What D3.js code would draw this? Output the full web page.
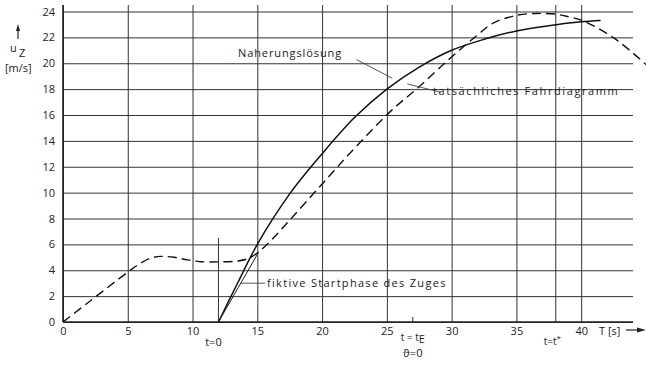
<!DOCTYPE html>
<html>
<head>
<meta charset="utf-8">
<script src="https://cdn.jsdelivr.net/npm/d3@7"></script>
<style>
  body { margin: 0; background: #fff; }
  svg text { font-family: "Open Sans", "DejaVu Sans", sans-serif; fill: #222; }
  .grid line { stroke: #333; stroke-width: 1; }
  .grid path { display: none; }
  .tick text { font-size: 11px; }
</style>
</head>
<body>
<script>

// data
var yTicks = [0, 2, 4, 6, 8, 10, 12, 14, 16, 18, 20, 22, 24];
var xTicks = [0, 5, 10, 15, 20, 25, 30, 35, 40];

// "tatsächliches Fahrdiagramm" (dashed)
var tatsT = [0, 2, 5, 6, 6.8, 7.6, 8.6, 9.6, 10.6, 12, 13.5, 14.4, 15.2, 16.2, 17.7, 19.9, 22.2, 25.3, 27.4, 29.9, 31.9, 33.2, 35, 36.5, 38, 39, 40.1, 42.6, 45];
var tatsU = [0, 1.55, 3.85, 4.55, 4.95, 5.07, 5.0, 4.8, 4.66, 4.65, 4.72, 4.95, 5.5, 6.45, 8.1, 10.55, 13.1, 16.3, 18.1, 20.4, 22.1, 23.1, 23.7, 23.85, 23.8, 23.6, 23.3, 21.9, 19.9];

// "Naherungslösung" (solid)
var nahT = [12, 13.5, 15, 17.5, 20, 22.5, 25, 27.5, 30, 32.5, 35, 37.5, 40, 41.5];
var nahU = [0, 3.05, 6.0, 9.9, 13.0, 15.8, 18.0, 19.7, 21.0, 21.85, 22.5, 22.9, 23.2, 23.3];

// "fiktive Startphase des Zuges"
var fikT = [12, 15.1];
var fikU = [0, 5.4];

// special times
var tStart = 12, tE = 27, tStar = 38;

var W = 646, H = 369;

var svg = d3.select("body").append("svg").attr("width", W).attr("height", H);

var x = d3.scaleLinear().domain([0, 44]).range([63, 633]);
var y = d3.scaleLinear().domain([0, 24]).range([322, 11.5]);

// horizontal grid + y labels
var yAxis = d3.axisLeft(y).tickValues(yTicks).tickSize(-(x(44) - x(0))).tickPadding(8);
svg.append("g").attr("class", "grid").attr("transform", "translate(" + x(0) + ",0)").call(yAxis);

// vertical grid + x labels
var xAxis = d3.axisBottom(x).tickValues(xTicks.concat([tStar])).tickSize(-(y(0) - y(24.5))).tickPadding(5)
    .tickFormat(function (d) { return d === tStar ? "" : d; });
svg.append("g").attr("class", "grid").attr("transform", "translate(0," + y(0) + ")").call(xAxis);

// axes themselves a bit heavier
svg.append("line").attr("x1", x(0)).attr("x2", x(44)).attr("y1", y(0)).attr("y2", y(0))
    .attr("stroke", "#222").attr("stroke-width", 1.6);
svg.append("line").attr("x1", x(0)).attr("x2", x(0)).attr("y1", y(0)).attr("y2", y(24.5))
    .attr("stroke", "#222").attr("stroke-width", 1.6);

// t=0 line and t_E tick
svg.append("line").attr("x1", x(tStart)).attr("x2", x(tStart)).attr("y1", y(0)).attr("y2", y(6.5))
    .attr("stroke", "#333").attr("stroke-width", 1);
svg.append("line").attr("x1", x(tE)).attr("x2", x(tE)).attr("y1", y(0)).attr("y2", y(0) - 5)
    .attr("stroke", "#333").attr("stroke-width", 1);

// curves
var line = d3.line()
    .x(function (d) { return x(d[0]); })
    .y(function (d) { return y(d[1]); })
    .curve(d3.curveCatmullRom.alpha(0.5));

svg.append("path").datum(d3.zip(tatsT, tatsU)).attr("d", line)
    .attr("fill", "none").attr("stroke", "#111").attr("stroke-width", 1.4).attr("stroke-dasharray", "9,5");

svg.append("path").datum(d3.zip(nahT, nahU)).attr("d", line)
    .attr("fill", "none").attr("stroke", "#111").attr("stroke-width", 1.5);

svg.append("path").datum(d3.zip(fikT, fikU)).attr("d", d3.line().x(function (d) { return x(d[0]); }).y(function (d) { return y(d[1]); }))
    .attr("fill", "none").attr("stroke", "#222").attr("stroke-width", 1);

// annotations
function leader(a, b) {
    svg.append("line").attr("x1", x(a[0])).attr("y1", y(a[1])).attr("x2", x(b[0])).attr("y2", y(b[1]))
        .attr("stroke", "#444").attr("stroke-width", 0.9);
}
leader([22.66, 20.28], [25.42, 18.84]);
leader([26.58, 18.4], [29.16, 17.76]);
leader([13.7, 3.0], [15.6, 3.0]);

svg.append("text").attr("x", 238).attr("y", 57).attr("font-size", 11).attr("letter-spacing", 0.9)
    .text("Naherungslösung");
svg.append("text").attr("x", 433).attr("y", 95).attr("font-size", 11).attr("letter-spacing", 1.6)
    .text("tatsächliches Fahrdiagramm");
svg.append("text").attr("x", 267).attr("y", 287).attr("font-size", 11).attr("letter-spacing", 1.3)
    .text("fiktive Startphase des Zuges");

// bottom labels
svg.append("text").attr("x", x(tStart) - 5).attr("y", 346).attr("font-size", 11).attr("text-anchor", "middle").text("t=0");
var tEt = svg.append("text").attr("x", x(tE)).attr("y", 341).attr("font-size", 10).attr("text-anchor", "middle");
tEt.append("tspan").text("t = t");
tEt.append("tspan").attr("dy", 2).attr("font-size", 11).text("E");
svg.append("text").attr("x", x(tE)).attr("y", 357).attr("font-size", 11).attr("text-anchor", "middle").text("ϑ=0");
var tSt = svg.append("text").attr("x", x(tStar) - 3).attr("y", 345).attr("font-size", 10).attr("text-anchor", "middle");
tSt.append("tspan").text("t=t");
tSt.append("tspan").attr("dy", -4).attr("font-size", 8).text("*");

svg.append("text").attr("x", 599).attr("y", 335).attr("font-size", 11).text("T [s]");
svg.append("line").attr("x1", 626).attr("x2", 640).attr("y1", 330).attr("y2", 330).attr("stroke", "#222").attr("stroke-width", 1.2);
svg.append("path").attr("d", "M637,327.5 L646,330 L637,332.5 Z").attr("fill", "#222");

// y label
svg.append("line").attr("x1", 18).attr("x2", 18).attr("y1", 39).attr("y2", 29).attr("stroke", "#222").attr("stroke-width", 1.2);
svg.append("path").attr("d", "M16,31 L18,24 L20,31 Z").attr("fill", "#222");
svg.append("text").attr("x", 10).attr("y", 52).attr("font-size", 11).text("u");
svg.append("text").attr("x", 19).attr("y", 57).attr("font-size", 11).text("Z");
svg.append("text").attr("x", 5).attr("y", 72).attr("font-size", 11).text("[m/s]");

</script>
</body>
</html>
